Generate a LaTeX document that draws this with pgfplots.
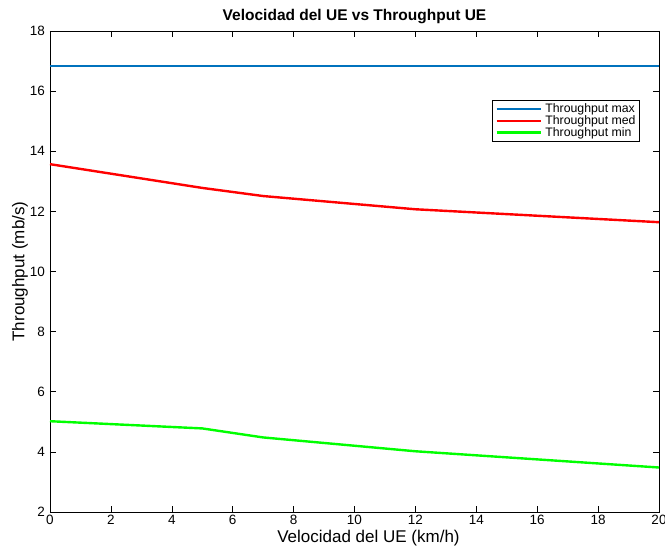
\documentclass[border=0pt]{standalone}
\usepackage{pgfplots}
\pgfplotsset{compat=1.18}
\usepackage{fontspec}
\setmainfont{Liberation Sans}
\definecolor{mblue}{rgb}{0,0.447,0.741}
\begin{document}
\begin{tikzpicture}
\begin{axis}[
name=ax,
scale only axis,
width=609pt,
height=481pt,
xmin=0, xmax=20,
ymin=2, ymax=18,
xtick={0,2,...,20},
ytick={2,4,...,18},
tick align=inside,
major tick length=6pt,
tick style={black, line width=0.6pt},
axis line style={line width=0.6pt},
/pgf/number format/assume math mode=true,
tick label style={font=\fontsize{13.5}{15}\selectfont},
xticklabel style={inner sep=0pt, yshift=-3pt},
yticklabel style={inner sep=5pt},
label style={font=\fontsize{17}{19}\selectfont},
title style={font=\fontsize{15.5}{17}\selectfont\bfseries,
  at={(axis description cs:0.5,1)}, anchor=base, yshift=4pt},
title={Velocidad del UE vs Throughput UE},
xlabel={Velocidad del UE (km/h)},
ylabel={Throughput (mb/s)},
xlabel style={at={(axis description cs:0.5,0)}, anchor=base, inner sep=0pt,
  yshift=-30.5pt, xshift=14pt},
ylabel style={at={(axis description cs:0,0.5)}, anchor=south, inner sep=0pt,
  yshift=22pt},
legend style={at={(0.7258,0.8565)}, anchor=north west, font=\fontsize{12.3}{12.3}\selectfont,
  draw=black, line width=0.6pt, inner sep=3pt, row sep=0pt, column sep=3pt,
  nodes={inner sep=0.6pt}},
legend cell align=left,
legend image code/.code={\draw[#1, line width=2.4pt] (3pt,0pt) -- (47pt,0pt);},
]
\addplot[color=mblue, line width=2.4pt] coordinates {(0,16.84) (20,16.84)};
\addlegendentry{Throughput max}
\addplot[color=red, line width=2.4pt] coordinates {
(0,13.57) (5,12.78) (7,12.51) (12,12.07) (20,11.64)};
\addlegendentry{Throughput med}
\addplot[color=green, line width=2.4pt] coordinates {
(0,5.02) (5,4.78) (7,4.48) (12,4.02) (20,3.48)};
\addlegendentry{Throughput min}
\end{axis}
\pgfresetboundingbox
\useasboundingbox ([xshift=-50pt,yshift=-34.5pt]ax.south west) rectangle ([xshift=6pt,yshift=31pt]ax.north east);
\end{tikzpicture}
\end{document}
